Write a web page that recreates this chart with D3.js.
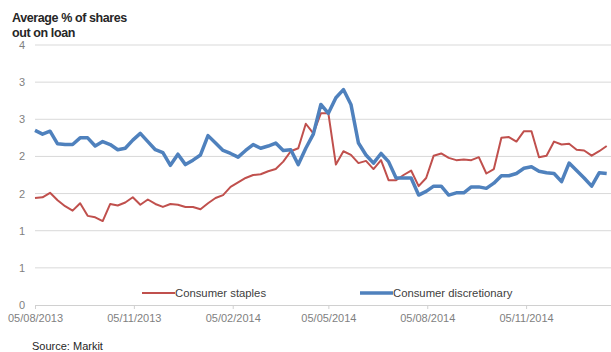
<!DOCTYPE html>
<html>
<head>
<meta charset="utf-8">
<script src="https://cdn.jsdelivr.net/npm/d3@7"></script>
<style>
  html, body { margin: 0; padding: 0; background: #fff; }
  svg { display: block; font-family: "Liberation Sans", Arial, sans-serif; }
</style>
</head>
<body>
<svg id="chart" width="611" height="352"></svg>
<script>
// ---- data ----
const startDate = "2013-08-05";      // first weekly observation
const weeksCount = 77;
const staples = [1.44,1.45,1.51,1.41,1.33,1.27,1.37,1.20,1.18,1.13,1.36,1.34,1.38,1.45,1.35,1.42,1.36,1.32,1.36,1.35,
  1.32,1.32,1.29,1.37,1.44,1.48,1.59,1.65,1.71,1.75,1.76,1.80,1.83,1.93,2.07,2.11,2.44,2.31,2.58,2.58,
  1.89,2.07,2.02,1.91,1.94,1.83,1.95,1.68,1.68,1.75,1.81,1.60,1.71,2.01,2.04,1.98,1.95,1.96,1.95,1.99,
  1.77,1.83,2.25,2.26,2.20,2.34,2.34,1.99,2.01,2.20,2.16,2.17,2.09,2.08,2.01,2.07,2.14];
const discretionary = [2.35,2.30,2.34,2.17,2.16,2.16,2.25,2.25,2.14,2.20,2.16,2.09,2.11,2.22,2.31,2.20,2.09,2.05,1.88,2.03,
  1.89,1.95,2.02,2.28,2.18,2.08,2.04,1.99,2.08,2.16,2.11,2.14,2.18,2.08,2.09,1.89,2.11,2.30,2.70,2.58,
  2.79,2.90,2.70,2.18,2.02,1.91,2.04,1.93,1.71,1.71,1.71,1.48,1.53,1.60,1.60,1.48,1.51,1.51,1.59,1.59,
  1.57,1.64,1.74,1.74,1.77,1.84,1.86,1.80,1.78,1.77,1.66,1.91,1.81,1.71,1.60,1.78,1.77];
const seriesNames = ["Consumer staples", "Consumer discretionary"];
const seriesColors = ["#C0504D", "#4F81BD"];
const xTickDates = ["2013-08-05","2013-11-05","2014-02-05","2014-05-05","2014-08-05","2014-11-05"];
const yTickValues = [0, 0.5, 1, 1.5, 2, 2.5, 3, 3.5];
const yTickLabels = ["0","1","1","2","2","3","3","4"];
const titleLines = ["Average % of shares", "out on loan"];
const sourceText = "Source: Markit";

// ---- build ----
const parse = d3.utcParse("%Y-%m-%d");
const t0 = parse(startDate);
const dates = d3.range(weeksCount).map(i => d3.utcDay.offset(t0, 7 * i));
const data = [staples, discretionary].map(vals => vals.map((v, i) => ({ d: dates[i], v })));

const svg = d3.select("#chart");
const mLeft = 35, mRight = 611, mTop = 45, mBottom = 305;

const x = d3.scaleUtc()
  .domain([t0, d3.utcDay.offset(t0, 536)])
  .range([mLeft, mRight]);
const y = d3.scaleLinear().domain([0, 3.5]).range([mBottom, mTop]);

// gridlines
svg.append("g")
  .selectAll("line")
  .data(yTickValues.filter(v => v > 0))
  .join("line")
  .attr("x1", mLeft).attr("x2", mRight)
  .attr("y1", d => y(d)).attr("y2", d => y(d))
  .attr("stroke", "#d9d9d9").attr("stroke-width", 1);

// y axis labels
const yAxis = d3.axisLeft(y)
  .tickValues(yTickValues)
  .tickFormat((d, i) => yTickLabels[i])
  .tickSize(0).tickPadding(10);
const gy = svg.append("g").attr("transform", `translate(${mLeft},0)`).call(yAxis);
gy.select(".domain").remove();
gy.selectAll("text").attr("fill", "#7f7f7f").style("font-size", "11px");

// x axis
const xAxis = d3.axisBottom(x)
  .tickValues(xTickDates.map(parse))
  .tickFormat(d3.utcFormat("%d/%m/%Y"))
  .tickSizeOuter(0).tickSizeInner(4).tickPadding(5);
const gx = svg.append("g").attr("transform", `translate(0,${mBottom})`).call(xAxis);
gx.select(".domain").attr("stroke", "#d0d0d0");
gx.selectAll(".tick line").attr("stroke", "#d0d0d0");
gx.selectAll("text").attr("fill", "#7f7f7f").style("font-size", "11px");

// lines
const line = d3.line().x(d => x(d.d)).y(d => y(d.v));
const widths = [2, 3.5];
data.forEach((s, k) => {
  svg.append("path")
    .datum(s)
    .attr("fill", "none")
    .attr("stroke", seriesColors[k])
    .attr("stroke-width", widths[k])
    .attr("stroke-linejoin", "round")
    .attr("d", line);
});

// legend
const legendPos = [[142, 293], [360, 293]];
seriesNames.forEach((name, k) => {
  const [lx, ly] = legendPos[k];
  svg.append("line")
    .attr("x1", lx).attr("x2", lx + 33)
    .attr("y1", ly).attr("y2", ly)
    .attr("stroke", seriesColors[k]).attr("stroke-width", widths[k]);
  svg.append("text")
    .attr("x", lx + 33).attr("y", ly + 4)
    .attr("fill", "#404040").style("font-size", "11.3px")
    .text(name);
});

// title
svg.append("g").selectAll("text")
  .data(titleLines)
  .join("text")
  .attr("x", 12).attr("y", (d, i) => 22 + i * 15)
  .attr("fill", "#262626")
  .style("font-size", "12.5px").style("font-weight", "bold")
  .style("letter-spacing", "-0.4px")
  .text(d => d);

// source
svg.append("text")
  .attr("x", 32).attr("y", 350)
  .attr("fill", "#262626").style("font-size", "11px")
  .text(sourceText);
</script>
</body>
</html>
